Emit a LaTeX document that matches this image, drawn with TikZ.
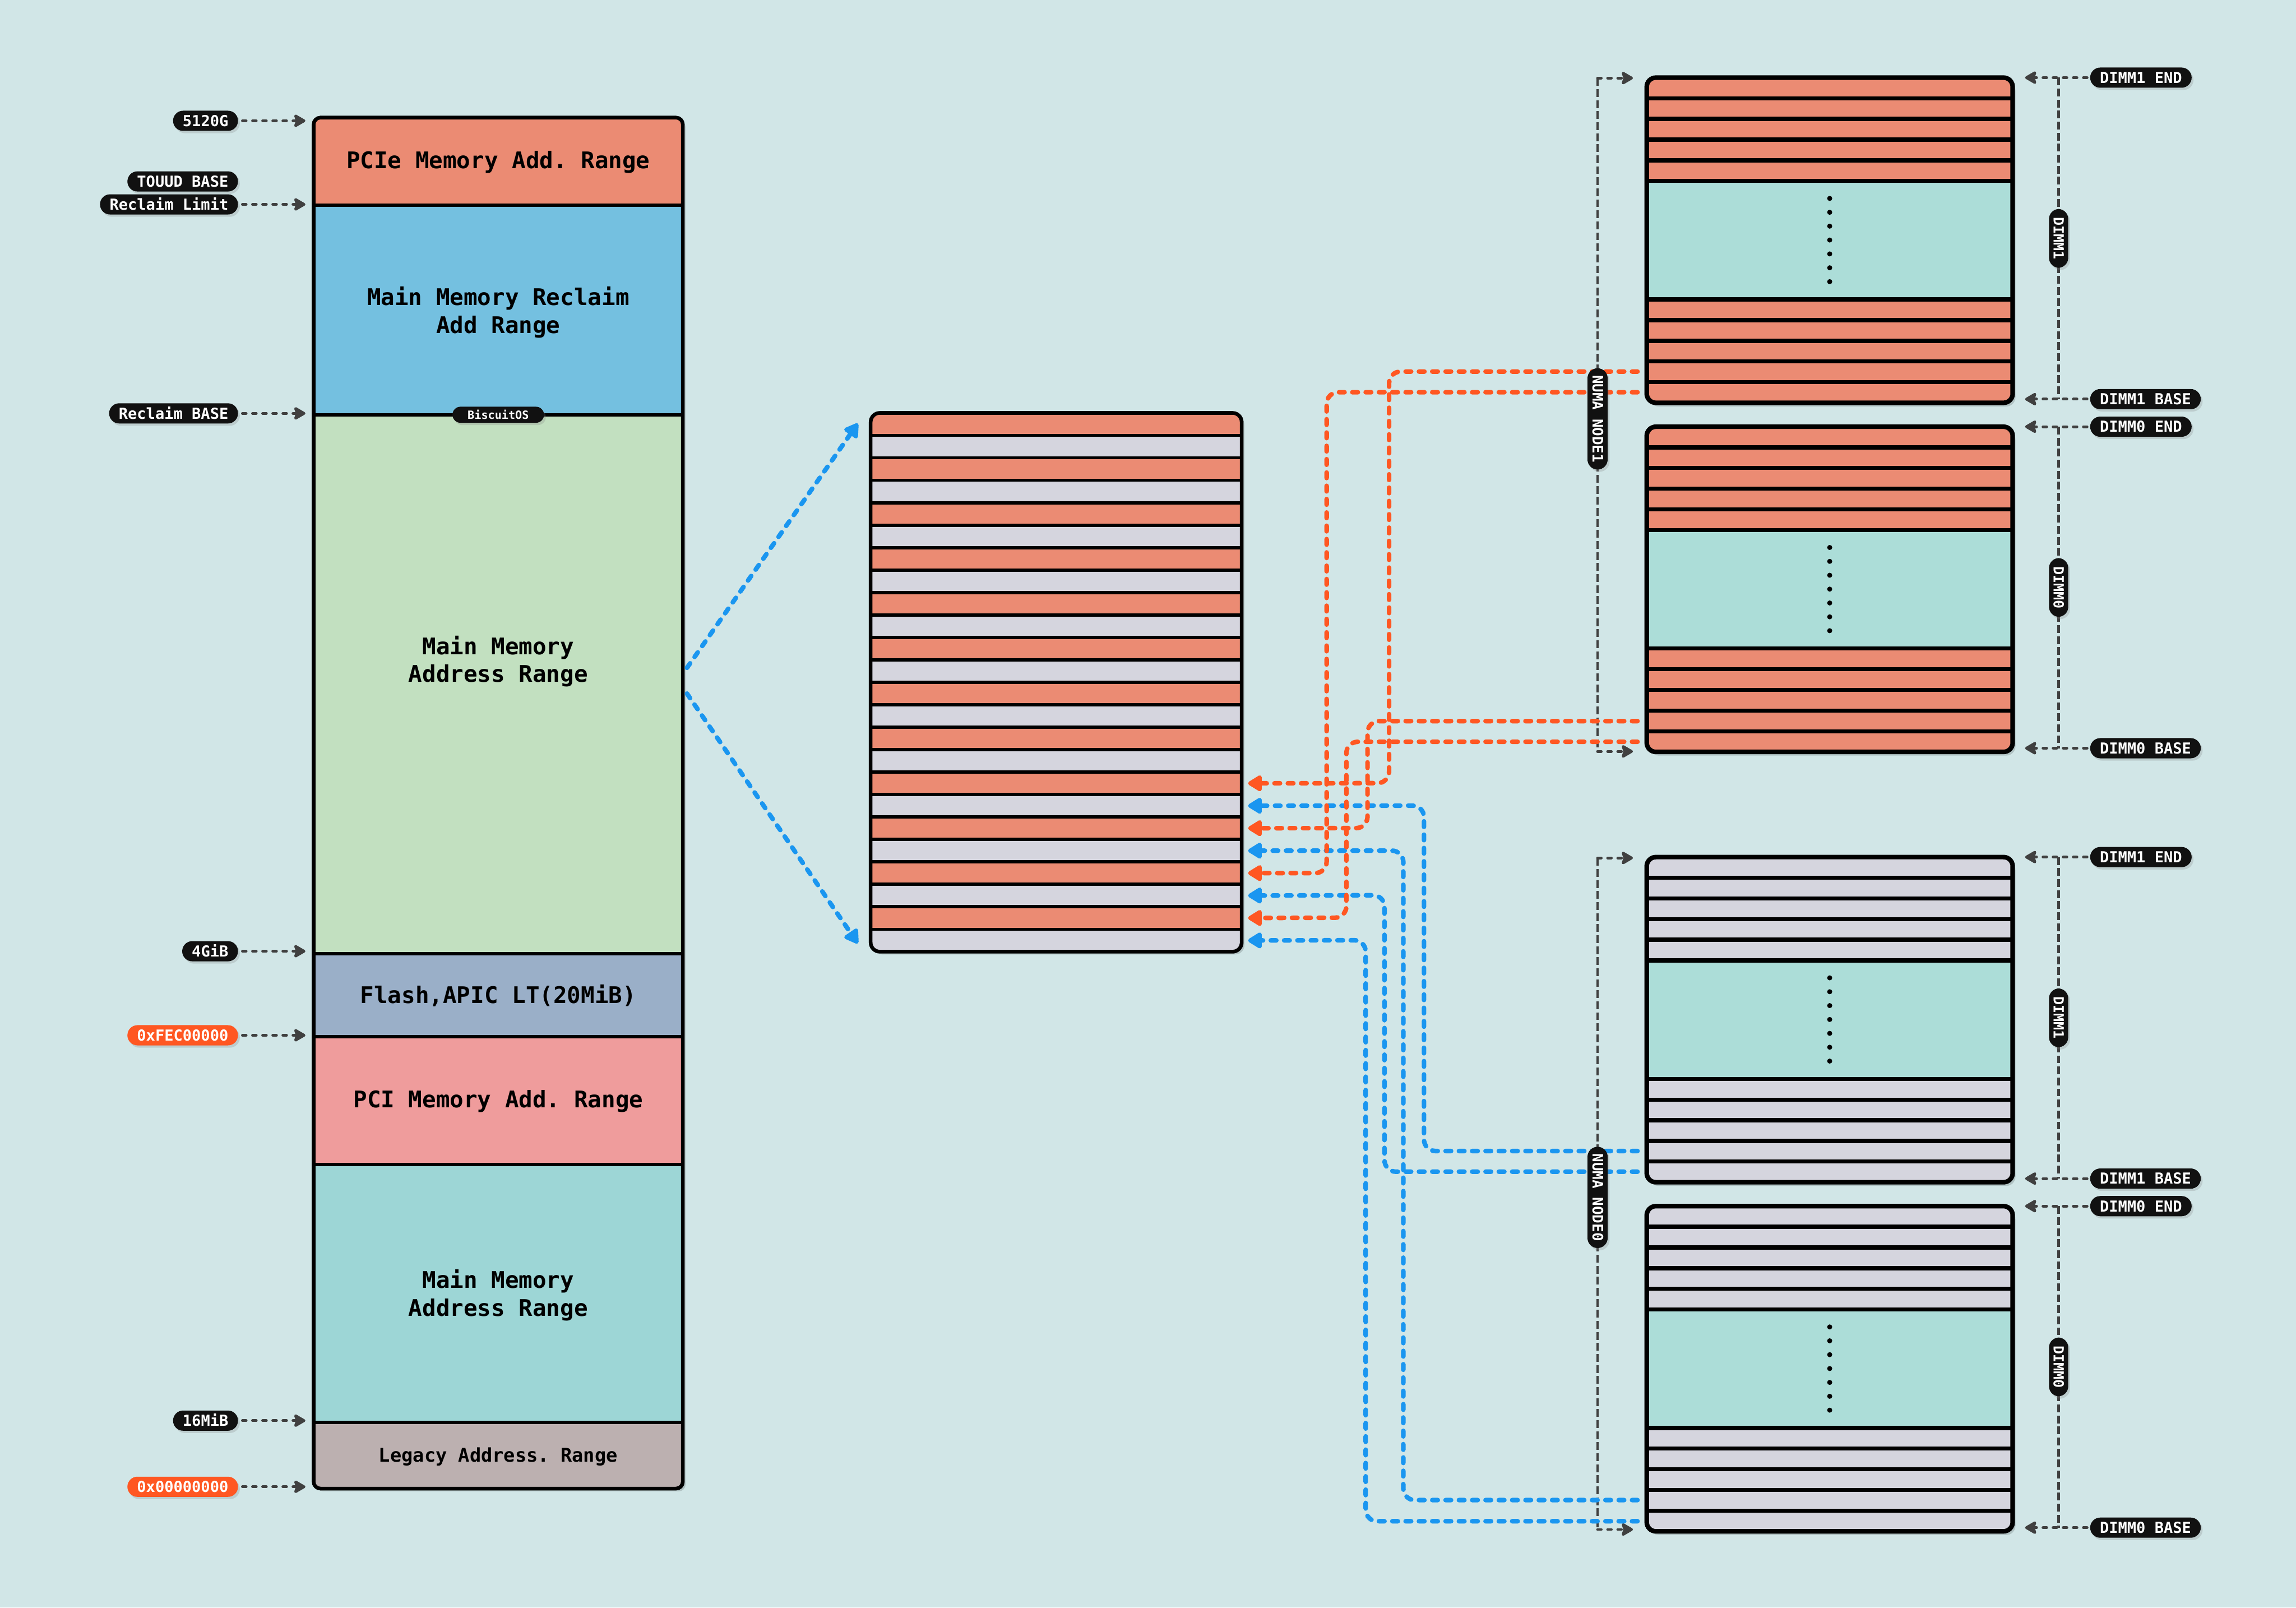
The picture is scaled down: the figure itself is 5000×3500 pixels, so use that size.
\documentclass[tikz,border=0pt]{standalone}
\usepackage{fontspec}
\setmonofont{DejaVu Sans Mono}
\usetikzlibrary{arrows.meta,shadows}
\definecolor{bg}{HTML}{D1E6E7}
\definecolor{cpcie}{HTML}{EB8B73}
\definecolor{creclaim}{HTML}{74C0E0}
\definecolor{cmain}{HTML}{C2E0C0}
\definecolor{cflash}{HTML}{9AAFC8}
\definecolor{cpci}{HTML}{EF9C9C}
\definecolor{cmaintwo}{HTML}{9DD6D6}
\definecolor{clegacy}{HTML}{BCB0B0}
\definecolor{sorange}{HTML}{EB8B73}
\definecolor{sgrey}{HTML}{D5D5DE}
\definecolor{dteal}{HTML}{ACDDD8}
\definecolor{lred}{HTML}{FF5722}
\definecolor{lblue}{HTML}{1A96F0}
\definecolor{conn}{HTML}{404040}
\definecolor{pillk}{HTML}{111111}
\newcommand\bigtxt{\ttfamily\bfseries\fontsize{14.2pt}{17.1pt}\selectfont}
\newcommand\dimmbox[2]{%
 \begin{scope}[shift={(0,#1)}]
  \fill[black,opacity=0.15,rounded corners=2mm] (3592,8) rectangle (4389,716);
  \begin{scope}
   \clip[rounded corners=2mm] (3586,0) rectangle (4383,708);
   \fill[#2] (3586,0) rectangle (4383,708);
   \fill[dteal] (3586,225) rectangle (4383,483);
  \end{scope}
  \foreach \d in {45,90,135,180,225,483,528,573,618,663}
   \draw[line width=0.9mm] (3586,\d) -- (4383,\d);
  \draw[line width=1mm, rounded corners=2mm] (3586,0) rectangle (4383,708);
  \foreach \k in {0,...,6} \fill ({3984.5},{263+\k*30.2}) circle[radius=0.55mm];
 \end{scope}}
\begin{document}
\begin{tikzpicture}[x=0.1mm,y=-0.1mm,
 pill/.style={fill=pillk, text=white, rounded corners=2.2mm, minimum height=4.4mm,
   inner xsep=2.1mm, inner ysep=0pt, text height=2.4mm, text depth=0pt,
   font=\ttfamily\bfseries\fontsize{9.4pt}{11pt}\selectfont,
   drop shadow={opacity=0.25,shadow xshift=0.4mm,shadow yshift=-0.5mm}},
 redpill/.style={pill, fill=lred},
 vpill/.style={pill, rotate=-90, minimum height=4.2mm, inner xsep=1.8mm,
   text height=2.2mm, font=\ttfamily\bfseries\fontsize{8.7pt}{10pt}\selectfont},
 gconn/.style={draw=conn, line width=0.6mm, dash pattern=on 0.8mm off 1.4mm, line cap=round,
   -{Stealth[length=2.9mm,width=3.3mm,inset=0.5mm,round]}},
 gline/.style={draw=conn, line width=0.5mm, dash pattern=on 1.7mm off 0.7mm},
 cconn/.style={line width=1mm, dash pattern=on 1.2mm off 1.7mm, line cap=round,
   rounded corners=2.5mm, -{Triangle[length=3.4mm,width=3.9mm,round]}},
 rconn/.style={cconn, draw=lred},
 bconn/.style={cconn, draw=lblue},
 boxtxt/.style={align=center, font=\bigtxt, inner sep=0pt},
]
\useasboundingbox (0,0) rectangle (5000,3500);
\fill[bg] (0,0) rectangle (5000,3500);

% ---------------- left column ----------------
\fill[black,opacity=0.15,rounded corners=1.5mm] (689,262) rectangle (1493,3247);
\begin{scope}
 \clip[rounded corners=1.5mm] (683,256) rectangle (1487,3241);
 \fill[cpcie] (683,256) rectangle (1487,447);
 \fill[creclaim] (683,447) rectangle (1487,903);
 \fill[cmain] (683,903) rectangle (1487,2076);
 \fill[cflash] (683,2076) rectangle (1487,2257);
 \fill[cpci] (683,2257) rectangle (1487,2535);
 \fill[cmaintwo] (683,2535) rectangle (1487,3097);
 \fill[clegacy] (683,3097) rectangle (1487,3241);
\end{scope}
\foreach \d in {447,903,2076,2257,2535,3097}
 \draw[line width=0.75mm] (683,\d) -- (1487,\d);
\draw[line width=0.8mm, rounded corners=1.5mm] (683,256) rectangle (1487,3241);

\node[boxtxt] (tpcie) at (1085,353) {PCIe Memory Add. Range};
\node[boxtxt] (trecl) at (1085,680) {Main Memory Reclaim\\Add Range};
\node[boxtxt] (tmain) at (1085,1440) {Main Memory\\Address Range};
\node[boxtxt] (tflash) at (1085,2168) {Flash,APIC LT(20MiB)};
\node[boxtxt] (tpci) at (1085,2398) {PCI Memory Add. Range};
\node[boxtxt] (tmaintwo) at (1085,2820) {Main Memory\\Address Range};
\node[boxtxt, font=\ttfamily\bfseries\fontsize{11.7pt}{14pt}\selectfont] (tlegacy) at (1085,3172) {Legacy Address. Range};

\node[pill, minimum height=3.5mm, rounded corners=1.75mm, inner xsep=3.3mm, text height=1.8mm,
  font=\ttfamily\bfseries\fontsize{7pt}{8pt}\selectfont] (bos) at (1085,903) {BiscuitOS};

% left labels
\node[pill, anchor=east] (l5120) at (519,263) {5120G};
\node[pill, anchor=east] (ltouud) at (519,395) {TOUUD BASE};
\node[pill, anchor=east] (lrlim) at (519,445) {Reclaim Limit};
\node[pill, anchor=east] (lrbase) at (519,900) {Reclaim BASE};
\node[pill, anchor=east] (l4g) at (519,2071) {4GiB};
\node[redpill, anchor=east] (lfec) at (519,2254) {0xFEC00000};
\node[pill, anchor=east] (l16m) at (519,3093) {16MiB};
\node[redpill, anchor=east] (lzero) at (519,3237) {0x00000000};
\foreach \n/\y in {l5120/263,lrlim/445,lrbase/900,l4g/2071,lfec/2254,l16m/3093,lzero/3237}{
 \coordinate (\n t) at (665,\y);
 \draw[gconn, shorten <=0.9mm] (\n) -- (\n t);
}

% ---------------- middle striped box ----------------
\fill[black,opacity=0.15,rounded corners=2mm] (1902,905) rectangle (2710,2078);
\begin{scope}
 \clip[rounded corners=2mm] (1896,899) rectangle (2704,2072);
 \foreach \i in {0,...,23}{
  \ifodd\i \def\sc{sgrey}\else \def\sc{sorange}\fi
  \fill[\sc] (1896,{899+\i*48.875}) rectangle (2704,{899+(\i+1)*48.875});
 }
\end{scope}
\foreach \i in {1,...,23}
 \draw[line width=0.7mm] (1896,{899+\i*48.875}) -- (2704,{899+\i*48.875});
\draw[line width=0.8mm, rounded corners=2mm] (1896,899) rectangle (2704,2072);

\coordinate (fanA) at (1496,1454);
\coordinate (fanB) at (1496,1510);
\coordinate (mtop) at (1868,922);
\coordinate (mbot) at (1868,2054);
\draw[bconn] (fanA) -- (mtop);
\draw[bconn] (fanB) -- (mbot);

% ---------------- DIMM boxes ----------------
\dimmbox{169}{sorange}
\dimmbox{929}{sorange}
\dimmbox{1866}{sgrey}
\dimmbox{2626}{sgrey}

% NUMA brackets
\coordinate (nAtop) at (3479,170);
\coordinate (nAtopT) at (3556,170);
\coordinate (nAbot) at (3479,1636);
\coordinate (nAbotT) at (3556,1636);
\coordinate (nBtop) at (3479,1868);
\coordinate (nBtopT) at (3556,1868);
\coordinate (nBbot) at (3479,3330);
\coordinate (nBbotT) at (3556,3330);
\draw[gline] (nAtop) -- (nAbot);
\draw[gline] (nBtop) -- (nBbot);
\draw[gconn] (nAtop) -- (nAtopT);
\draw[gconn] (nAbot) -- (nAbotT);
\draw[gconn] (nBtop) -- (nBtopT);
\draw[gconn] (nBbot) -- (nBbotT);

% DIMM brackets on the right
\foreach \n/\ya/\yb/\txt in {a/169/869/1, b/929/1629/0, c/1866/2566/1, d/2626/3326/0}{
 \coordinate (\n top) at (4483,\ya);
 \coordinate (\n bot) at (4483,\yb);
 \draw[gline] (\n top) -- (\n bot);
 \node[pill, anchor=west] (\n endl) at (4551,\ya) {DIMM\txt\ END};
 \node[pill, anchor=west] (\n basel) at (4551,\yb) {DIMM\txt\ BASE};
 \coordinate (\n endt) at (4410,\ya);
 \coordinate (\n baset) at (4410,\yb);
 \draw[gconn, shorten <=0.6mm] (\n endl) -- (\n endt);
 \draw[gconn, shorten <=0.6mm] (\n basel) -- (\n baset);
 \node[vpill] (\n dimm) at (4483,{(\ya+\yb)/2}) {DIMM\txt};
}

% ---------------- coloured connectors ----------------
\coordinate (srcA1) at (3566,809);
\coordinate (srcA2) at (3566,854);
\coordinate (srcB1) at (3566,1570);
\coordinate (srcB2) at (3566,1615);
\coordinate (srcC1) at (3566,2506);
\coordinate (srcC2) at (3566,2551);
\coordinate (srcD1) at (3566,3266);
\coordinate (srcD2) at (3566,3312);
\foreach \i in {16,...,23}
 \coordinate (t\i) at (2718,{899+(\i+0.5)*48.875});

\draw[bconn] (srcD2) -- (2974,3312) -- (2974,2047) -- (t23);
\draw[bconn] (srcC2) -- (3015,2551) -- (3015,1949) -- (t21);
\draw[bconn] (srcD1) -- (3056,3266) -- (3056,1852) -- (t19);
\draw[bconn] (srcC1) -- (3101,2506) -- (3101,1754) -- (t17);
\draw[rconn] (srcA2) -- (2889,854) -- (2889,1901) -- (t20);
\draw[rconn] (srcB2) -- (2932,1615) -- (2932,1998) -- (t22);
\draw[rconn] (srcB1) -- (2978,1570) -- (2978,1803) -- (t18);
\draw[rconn] (srcA1) -- (3025,809) -- (3025,1705) -- (t16);

% NUMA pills on top
\node[vpill, minimum height=4.4mm, inner xsep=1.5mm, font=\ttfamily\bfseries\fontsize{9pt}{10pt}\selectfont] (numaone) at (3479,912) {NUMA NODE1};
\node[vpill, minimum height=4.4mm, inner xsep=1.5mm, font=\ttfamily\bfseries\fontsize{9pt}{10pt}\selectfont] (numazero) at (3479,2607) {NUMA NODE0};
\end{tikzpicture}
\end{document}
